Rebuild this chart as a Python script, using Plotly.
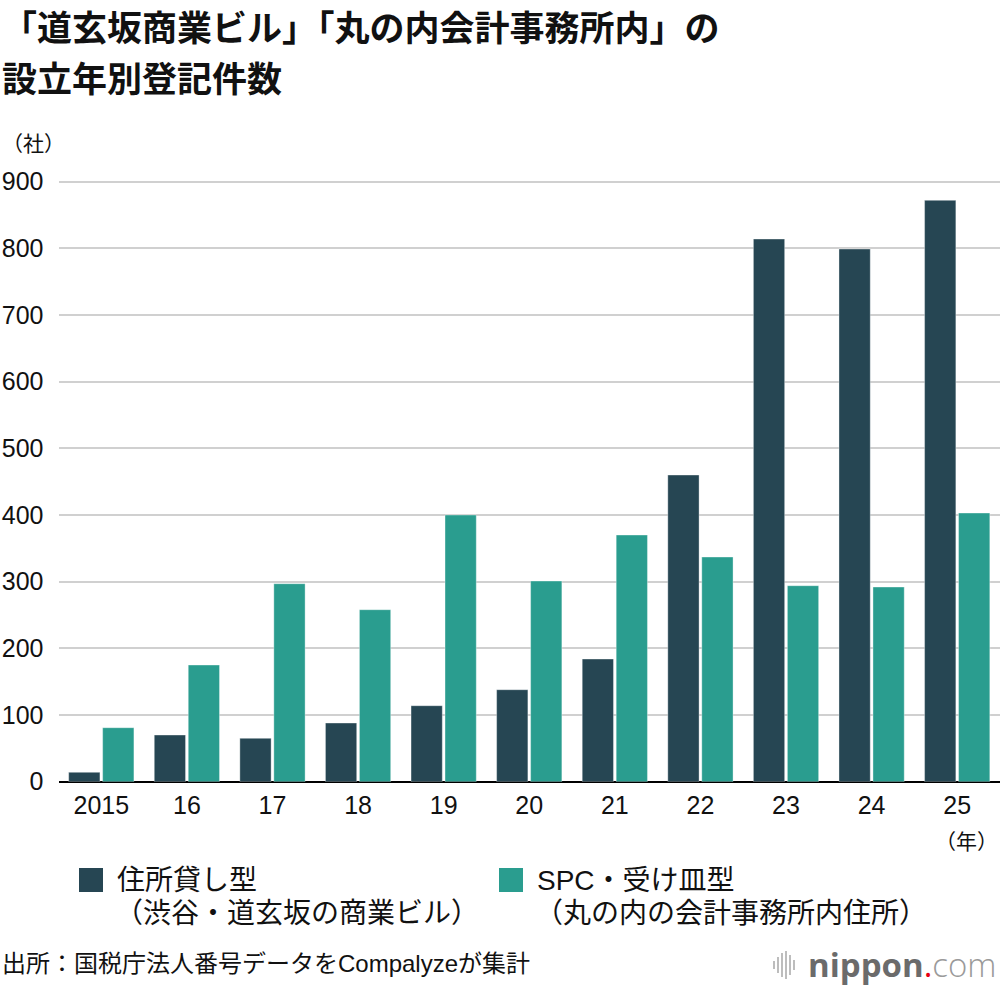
import plotly.graph_objects as go

# ---- data ----
years = ["2015", "16", "17", "18", "19", "20", "21", "22", "23", "24", "25"]
rental_type = [14, 70, 65, 88, 114, 138, 184, 460, 814, 799, 872]   # 住所貸し型
spc_type = [81, 175, 297, 258, 400, 301, 370, 337, 294, 292, 403]   # SPC・受け皿型
y_ticks = [0, 100, 200, 300, 400, 500, 600, 700, 800, 900]

title_lines = ["「道玄坂商業ビル」「丸の内会計事務所内」の", "設立年別登記件数"]
series_names = ["住所貸し型", "SPC・受け皿型"]
series_sub = ["（渋谷・道玄坂の商業ビル）", "（丸の内の会計事務所内住所）"]
source_text = "出所：国税庁法人番号データをCompalyzeが集計"

DARK = "#264653"
TEAL = "#2a9d8f"
W, H = 1000, 990
BASE = "Liberation Sans, Noto Sans CJK JP"
CJK = "Noto Sans CJK JP"


def py(p):
    return 1 - p / H


def px(p):
    return p / W


fig = go.Figure()
fig.add_trace(go.Bar(x=years, y=rental_type, name=series_names[0],
                     marker=dict(color=DARK, line=dict(width=1, color="rgba(255,255,255,0.35)"))))
fig.add_trace(go.Bar(x=years, y=spc_type, name=series_names[1],
                     marker=dict(color=TEAL, line=dict(width=1, color="rgba(255,255,255,0.35)"))))

# plot area: y=0 at 781.7px, y=900 at 181.7px
ppu = 600 / 900
y_top_val = 910
y0_px = 781.7
ytop_px = y0_px - y_top_val * ppu

fig.update_layout(
    width=W, height=H,
    margin=dict(l=0, r=0, t=0, b=0, autoexpand=False),
    paper_bgcolor="white", plot_bgcolor="white",
    showlegend=False,
    barmode="group", bargap=0.206, bargroupgap=0.08,
    font=dict(family=BASE, color="#111111"),
    xaxis=dict(domain=[0.0585, 1.0], showgrid=False, showline=False, ticks="",
               automargin=False,
               tickfont=dict(size=25, family=BASE, color="#111111"),
               ticklabelstandoff=6, fixedrange=True),
    yaxis=dict(domain=[py(y0_px), py(ytop_px)], range=[0, y_top_val],
               automargin=False,
               tickvals=y_ticks, ticktext=[str(v) for v in y_ticks],
               showgrid=True, gridcolor="#d0d0d0", gridwidth=1.5,
               zeroline=True, zerolinecolor="#000000", zerolinewidth=2,
               showline=False, ticks="",
               tickfont=dict(size=25, family=BASE, color="#111111"),
               ticklabelstandoff=14, fixedrange=True),
)

ann = []
# title
for txt, cy in zip(title_lines, [26, 77]):
    ann.append(dict(text=txt, x=0, y=py(cy), xref="paper", yref="paper",
                    xanchor="left", yanchor="middle", align="left", showarrow=False,
                    font=dict(family=CJK, size=35, weight=700, color="#111111")))
# axis unit labels
ann.append(dict(text="（社）", x=0, y=py(142), xref="paper", yref="paper",
                xanchor="left", yanchor="middle", showarrow=False,
                font=dict(family=CJK, size=21, color="#111111")))
ann.append(dict(text="（年）", x=1.0, y=py(840), xref="paper", yref="paper",
                xanchor="right", yanchor="middle", showarrow=False,
                font=dict(family=CJK, size=21, color="#111111")))

# legend
leg = [(79, 113, DARK), (499, 533, TEAL)]
shapes = []
for i, (sx, tx, col) in enumerate(leg):
    shapes.append(dict(type="rect", xref="paper", yref="paper",
                       x0=px(sx), x1=px(sx + 24), y0=py(892), y1=py(868),
                       fillcolor=col, line=dict(width=0)))
    ann.append(dict(text=series_names[i], x=px(tx + 2), y=py(880), xref="paper", yref="paper",
                    xanchor="left", yanchor="middle", showarrow=False,
                    font=dict(family=BASE, size=28, color="#111111")))
    ann.append(dict(text=series_sub[i], x=px(tx), y=py(913), xref="paper", yref="paper",
                    xanchor="left", yanchor="middle", showarrow=False,
                    font=dict(family=BASE, size=28, color="#111111")))

# source
ann.append(dict(text=source_text, x=0, y=py(963), xref="paper", yref="paper",
                xanchor="left", yanchor="middle", showarrow=False,
                font=dict(family=BASE, size=24, color="#111111")))

# logo
ann.append(dict(text="<b>nippon</b><span style='color:#e60012'>.</span>"
                     "<span style='color:#9a9a9a;font-weight:300'>com</span>",
                x=px(999), y=py(964), xref="paper", yref="paper",
                xanchor="right", yanchor="middle", showarrow=False,
                font=dict(family="Open Sans", size=33, color="#6b6b6b")))
logo_bars = [(774, 8), (778, 16), (782, 24), (786, 28), (790, 20), (794, 10)]
for lx, lh in logo_bars:
    shapes.append(dict(type="line", xref="paper", yref="paper",
                       x0=px(lx), x1=px(lx), y0=py(965 - lh / 2), y1=py(965 + lh / 2),
                       line=dict(color="#bdbdbd", width=2)))

fig.update_layout(annotations=ann, shapes=shapes)
fig.write_html("out.html")
